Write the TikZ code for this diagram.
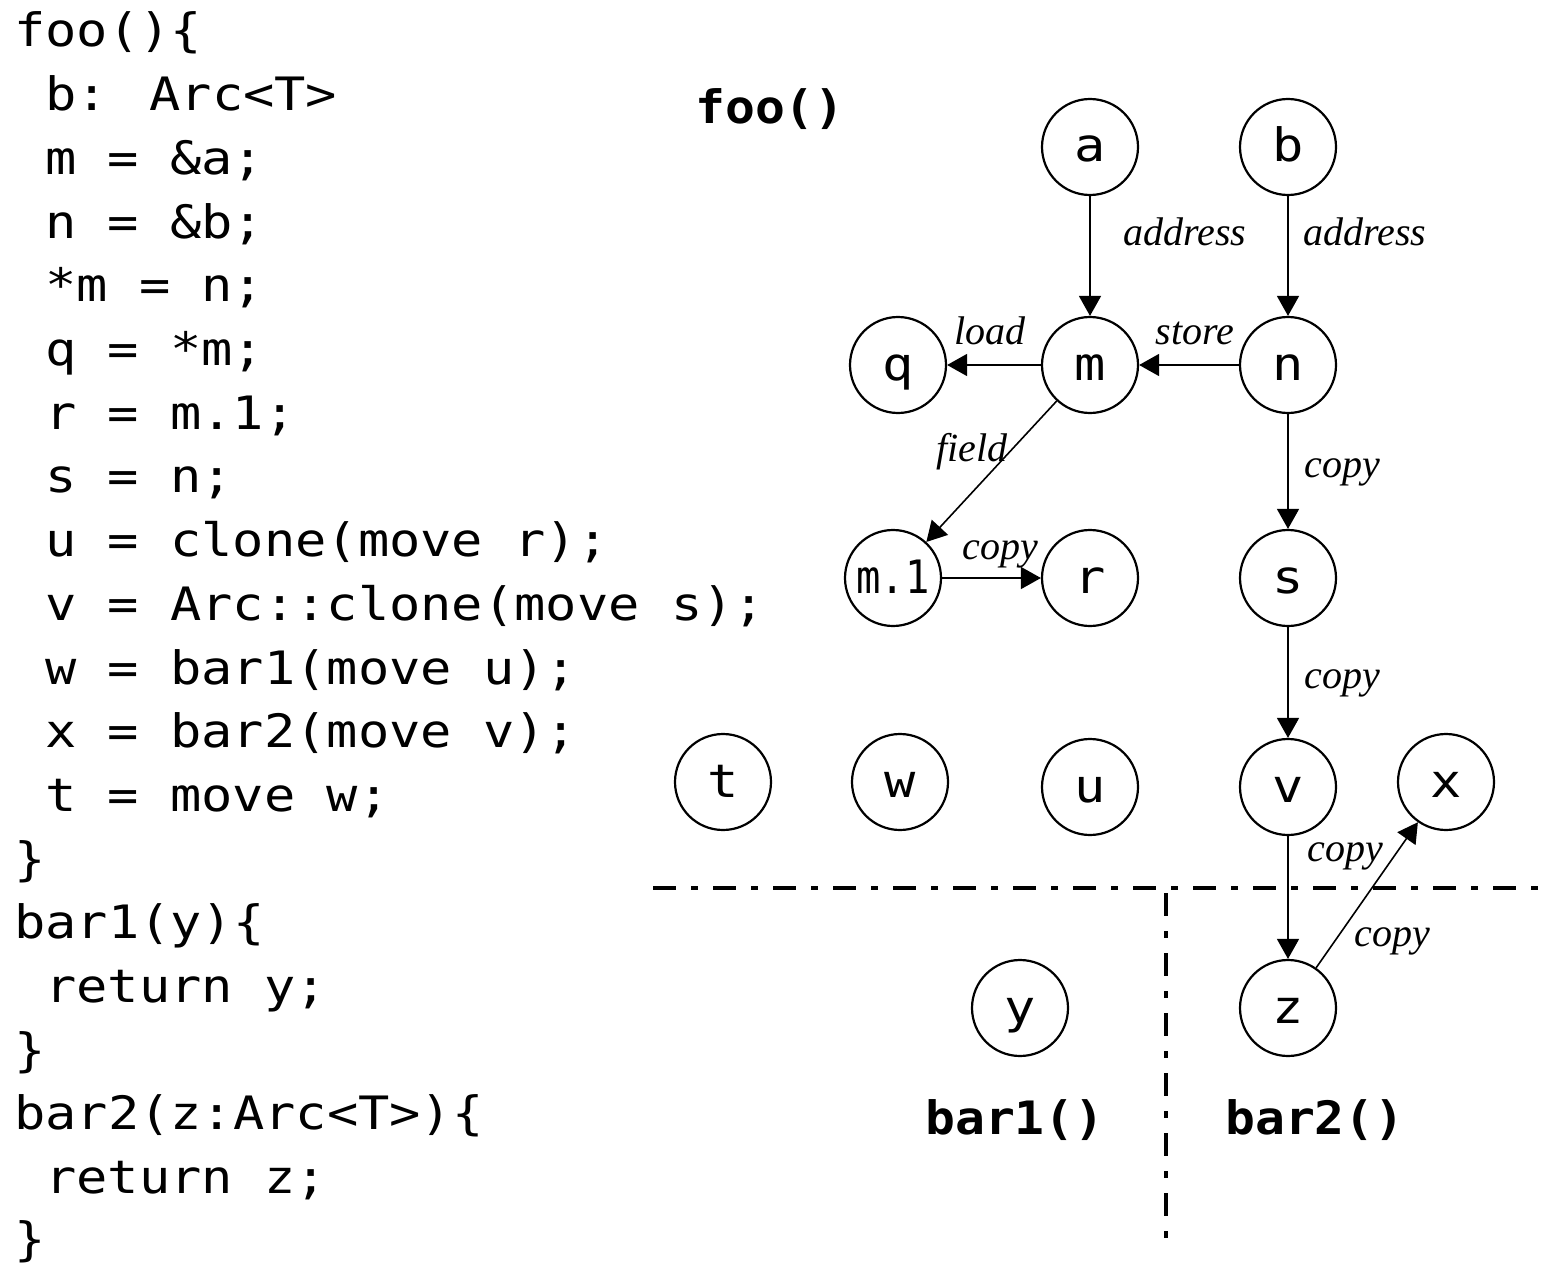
\documentclass[tikz,border=0pt]{standalone}
\usepackage{fontspec}
\newfontfamily\codefont[FakeStretch=1.13]{DejaVu Sans Mono}
\newfontfamily\codenarrow[FakeStretch=0.88]{DejaVu Sans Mono}
\newfontfamily\titlefont[FakeStretch=1.08]{DejaVu Sans Mono}
\newfontfamily\lblfont{Liberation Serif}
\usetikzlibrary{arrows.meta}
\tikzset{
  code/.style={anchor=base west, inner sep=0pt, font=\codefont\fontsize{46}{50}\selectfont},
  titletext/.style={anchor=base west, inner sep=0pt, font=\titlefont\bfseries\fontsize{46}{50}\selectfont},
  vnode/.style={circle, draw, line width=2.2pt, minimum size=96pt, inner sep=0pt,
    text height=30pt, text depth=0pt, font=\codefont\fontsize{46}{46}\selectfont},
  edge/.style={line width=1.6pt, -{Triangle[length=20pt,width=22pt]}},
  lbl/.style={inner sep=0pt, font=\lblfont\itshape\fontsize{40}{40}\selectfont},
  sep/.style={line width=4.5pt, dash pattern=on 23pt off 15pt on 7pt off 15pt}
}
\begin{document}
\begin{tikzpicture}[x=1pt,y=-1pt]
\useasboundingbox (0,0) rectangle (1563,1268);
% code listing
\node[code] (l0)  at (14,47)     {foo()\{};
\node[code] (l1)  at (45,110.7)  {b: Arc<T>};
\node[code] (l2)  at (45,174.4)  {m = \&a;};
\node[code] (l3)  at (45,238.1)  {n = \&b;};
\node[code] (l4)  at (45,301.8)  {*m = n;};
\node[code] (l5)  at (45,365.5)  {q = *m;};
\node[code] (l6)  at (45,429.2)  {r = m.1;};
\node[code] (l7)  at (45,492.9)  {s = n;};
\node[code] (l8)  at (45,556.6)  {u = clone(move r);};
\node[code] (l9)  at (45,620.3)  {v = Arc::clone(move s);};
\node[code] (l10) at (45,684)    {w = bar1(move u);};
\node[code] (l11) at (45,747.7)  {x = bar2(move v);};
\node[code] (l12) at (45,811.4)  {t = move w;};
\node[code] (l13) at (14,875.1)  {\}};
\node[code] (l14) at (14,938.8)  {bar1(y)\{};
\node[code] (l15) at (45,1002.5) {return y;};
\node[code] (l16) at (14,1066.2) {\}};
\node[code] (l17) at (14,1129.9) {bar2(z:Arc<T>)\{};
\node[code] (l18) at (45,1193.6) {return z;};
\node[code] (l19) at (14,1255.3) {\}};
% titles
\node[titletext] (tfoo)  at (695,124)  {foo()};
\node[titletext] (tbar1) at (925,1134) {bar1()};
\node[titletext] (tbar2) at (1225,1134) {bar2()};
% separators
\draw[sep] (653,888) -- (1545,888);
\draw[sep] (1166,893) -- (1166,1240);
% graph nodes
\node[vnode] (a)  at (1090,147) {a};
\node[vnode] (b)  at (1288,147) {b};
\node[vnode] (q)  at (898,365)  {q};
\node[vnode] (m)  at (1090,365) {m};
\node[vnode] (n)  at (1288,365) {n};
\node[vnode] (m1) at (893,578)  {\codenarrow m.1};
\node[vnode] (r)  at (1090,578) {r};
\node[vnode] (s)  at (1288,578) {s};
\node[vnode] (t)  at (723,782)  {t};
\node[vnode] (w)  at (900,782)  {w};
\node[vnode] (u)  at (1090,787) {u};
\node[vnode] (v)  at (1288,787) {v};
\node[vnode] (x)  at (1446,782) {x};
\node[vnode] (y)  at (1020,1008) {y};
\node[vnode] (z)  at (1288,1008) {z};
% edges
\draw[edge] (a) -- (m);
\draw[edge] (b) -- (n);
\draw[edge] (m) -- (q);
\draw[edge] (n) -- (m);
\draw[edge] (m) -- (m1);
\draw[edge] (m1) -- (r);
\draw[edge] (n) -- (s);
\draw[edge] (s) -- (v);
\draw[edge] (v) -- (z);
\draw[edge] (z) -- (x);
% edge labels
\node[lbl] (la1) at (1185,232) {address};
\node[lbl] (la2) at (1365,232) {address};
\node[lbl] (lld) at (990,331)  {load};
\node[lbl] (lst) at (1195,333) {store};
\node[lbl] (lfd) at (972,452)  {field};
\node[lbl] (lc1) at (1000,554) {copy};
\node[lbl] (lc2) at (1342,472) {copy};
\node[lbl] (lc3) at (1342,683) {copy};
\node[lbl] (lc4) at (1345,856) {copy};
\node[lbl] (lc5) at (1392,941) {copy};
\end{tikzpicture}
\end{document}
